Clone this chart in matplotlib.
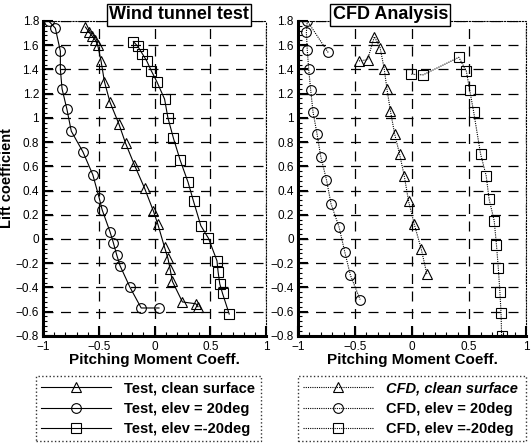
"""
Lift coefficient vs pitching moment: wind tunnel test and CFD analysis
"""
import numpy as np
import matplotlib.pyplot as plt
from matplotlib.ticker import MultipleLocator, StrMethodFormatter

plt.rcParams['font.family'] = ['Liberation Sans', 'DejaVu Sans']

# Wind tunnel test data (pitching moment, lift coefficient)
test_clean_cm = [-0.62, -0.59, -0.56, -0.53, -0.51, -0.48, -0.45, -0.40, -0.32, -0.26,
                 -0.18, -0.09, -0.01, 0.03, 0.09, 0.12, 0.14, 0.16, 0.25, 0.37, 0.39]
test_clean_cl = [1.75, 1.71, 1.675, 1.64, 1.60, 1.47, 1.30, 1.13, 0.95, 0.79,
                 0.61, 0.42, 0.23, 0.12, -0.07, -0.16, -0.25, -0.35, -0.52, -0.535, -0.56]

test_up_cm = [-0.95, -0.89, -0.845, -0.845, -0.83, -0.786, -0.747, -0.643, -0.554, -0.497,
              -0.47, -0.40, -0.37, -0.34, -0.31, -0.22, -0.12, 0.04]
test_up_cl = [1.80, 1.74, 1.55, 1.40, 1.24, 1.07, 0.89, 0.72, 0.53, 0.34,
              0.24, 0.06, -0.03, -0.13, -0.22, -0.40, -0.57, -0.57]

test_dn_cm = [-0.19, -0.15, -0.11, -0.07, -0.03, 0.02, 0.09, 0.12, 0.17, 0.23,
              0.30, 0.35, 0.415, 0.484, 0.56, 0.57, 0.585, 0.61, 0.67]
test_dn_cl = [1.63, 1.59, 1.53, 1.47, 1.39, 1.30, 1.155, 1.00, 0.83, 0.65,
              0.47, 0.31, 0.11, 0.005, -0.18, -0.27, -0.37, -0.45, -0.62]

# CFD data
cfd_clean_cm = [-0.465, -0.39, -0.33, -0.28, -0.244, -0.22, -0.19, -0.153, -0.109,
                -0.068, -0.03, 0.02, 0.08, 0.13]
cfd_clean_cl = [1.47, 1.48, 1.67, 1.58, 1.405, 1.24, 1.06, 0.87, 0.70,
                0.52, 0.31, 0.12, -0.08, -0.29]

cfd_up_cm = [-0.735, -0.918, -0.926, -0.918, -0.906, -0.888, -0.868, -0.832, -0.80,
             -0.75, -0.71, -0.64, -0.59, -0.54, -0.455]
cfd_up_cl = [1.54, 1.80, 1.705, 1.56, 1.405, 1.23, 1.05, 0.865, 0.68,
             0.49, 0.29, 0.10, -0.105, -0.30, -0.50]

cfd_dn_cm = [-0.006, 0.097, 0.41, 0.476, 0.505, 0.54, 0.60, 0.65, 0.675,
             0.72, 0.74, 0.756, 0.77, 0.78, 0.785]
cfd_dn_cl = [1.36, 1.355, 1.50, 1.385, 1.23, 1.05, 0.705, 0.52, 0.33,
             0.15, -0.05, -0.24, -0.44, -0.61, -0.80]

test_labels = ['Test, clean surface', 'Test, elev = 20deg', 'Test, elev =-20deg']
cfd_labels = ['CFD, clean surface', 'CFD, elev = 20deg', 'CFD, elev =-20deg']


def style_axes(ax, title, title_x):
    ax.set_xlim(-1, 1)
    ax.set_ylim(-0.8, 1.8)
    ax.xaxis.set_major_locator(MultipleLocator(0.5))
    ax.xaxis.set_minor_locator(MultipleLocator(0.1))
    ax.yaxis.set_major_locator(MultipleLocator(0.2))
    ax.yaxis.set_minor_locator(MultipleLocator(0.04))
    ax.xaxis.set_major_formatter(StrMethodFormatter('{x:g}'))
    ax.yaxis.set_major_formatter(StrMethodFormatter('{x:g}'))
    ax.grid(True, which='major', color='black', linestyle=(0, (8, 6)), linewidth=0.9)
    ax.tick_params(which='major', direction='in', length=7, width=1.5, labelsize=8.5)
    ax.tick_params(axis='x', which='major', pad=4)
    ax.tick_params(axis='y', which='major', pad=3)
    ax.tick_params(which='minor', direction='in', length=3, width=0.8)
    ax.tick_params(top=False, right=False)
    ax.spines['left'].set_linewidth(2.2)
    ax.spines['bottom'].set_linewidth(2.2)
    for side in ('top', 'right'):
        ax.spines[side].set_linestyle(':')
        ax.spines[side].set_linewidth(0.8)
    ax.set_xlabel('Pitching Moment Coeff.', fontsize=11, fontweight='bold', labelpad=0)
    ax.text(title_x, 1.85, title, ha='center', va='center', fontsize=13, fontweight='bold',
            bbox=dict(boxstyle='square,pad=0.12', facecolor='white', edgecolor='black', linewidth=1),
            zorder=10, clip_on=False)


fig = plt.figure(figsize=(5.32, 4.46), dpi=100)
ax1 = fig.add_axes([0.081, 0.247, 0.419, 0.706])
ax2 = fig.add_axes([0.560, 0.247, 0.429, 0.706])

mk = dict(markerfacecolor='none', markeredgecolor='black', markersize=7, markeredgewidth=0.8)
h1 = ax1.plot(test_clean_cm, test_clean_cl, '-', color='black', lw=0.8, marker='^', **mk)
h2 = ax1.plot(test_up_cm, test_up_cl, '-', color='black', lw=0.8, marker='o', **mk)
h3 = ax1.plot(test_dn_cm, test_dn_cl, '-', color='black', lw=0.8, marker='s', **mk)

dot = (0, (1, 1))
g1 = ax2.plot(cfd_clean_cm, cfd_clean_cl, color='black', ls=dot, lw=0.8, marker='^', **mk)
g2 = ax2.plot(cfd_up_cm, cfd_up_cl, color='black', ls=dot, lw=0.8, marker='o', **mk)
g3 = ax2.plot(cfd_dn_cm, cfd_dn_cl, color='black', ls=dot, lw=0.8, marker='s', **mk)

style_axes(ax1, 'Wind tunnel test', 0.22)
style_axes(ax2, 'CFD Analysis', -0.19)
ax1.set_ylabel('Lift coefficient', fontsize=10.5, fontweight='bold', labelpad=1)

leg_kw = dict(loc='upper left', mode='expand', handlelength=4.8, handletextpad=0.9,
              prop=dict(weight='bold', size=10.5), fancybox=False, borderaxespad=0,
              labelspacing=0.45, borderpad=0.35)
leg1 = fig.legend(h1 + h2 + h3, test_labels, bbox_to_anchor=(0.068, 0.157, 0.423, 0.0), **leg_kw)
leg2 = fig.legend(g1 + g2 + g3, cfd_labels, bbox_to_anchor=(0.560, 0.157, 0.429, 0.0), **leg_kw)
for leg in (leg1, leg2):
    leg.get_frame().set_edgecolor('black')
    leg.get_frame().set_linestyle(':')
    leg.get_frame().set_linewidth(1)
leg2.get_texts()[0].set_fontstyle('italic')

fig.savefig('out.png', dpi=100)
